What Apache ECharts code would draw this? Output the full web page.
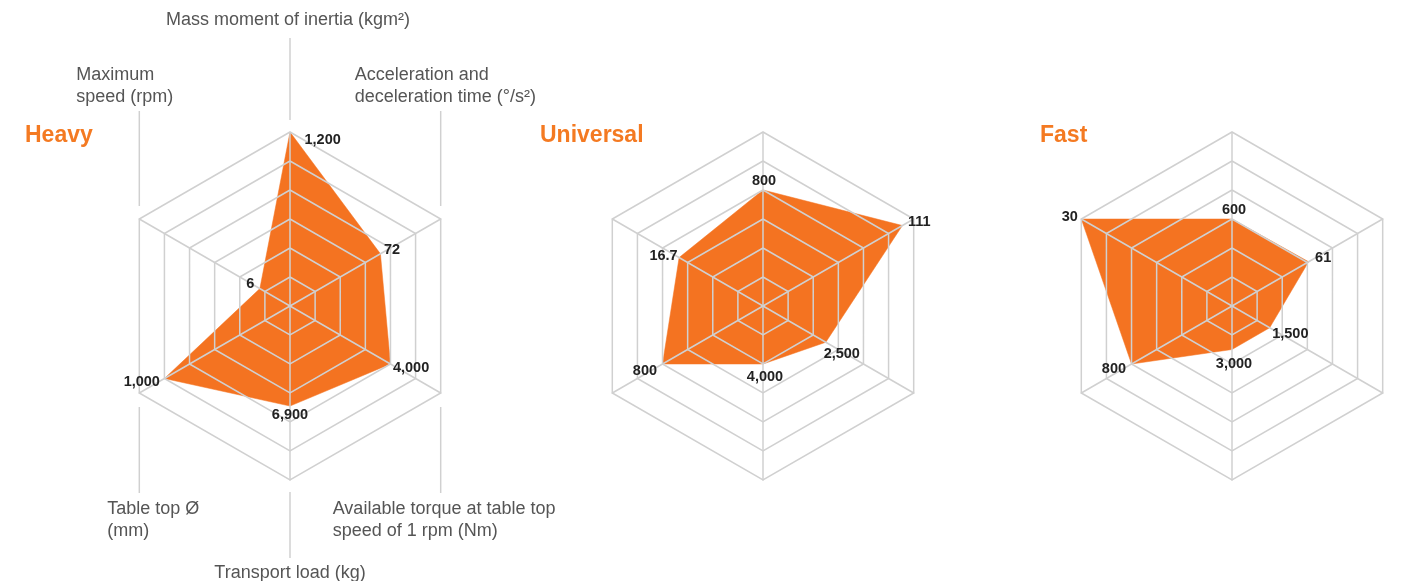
<!DOCTYPE html>
<html>
<head>
<meta charset="utf-8">
<script src="https://cdn.jsdelivr.net/npm/echarts@6/dist/echarts.min.js"></script>
<style>
html,body{margin:0;padding:0;background:#fff;}
#chart{width:1404px;height:581px;}
</style>
</head>
<body>
<div id="chart"></div>
<script>
// ---- data ----
// indicator order (ECharts radar, counter-clockwise from top)
var indicatorNames = [
  'Mass moment of inertia (kgm²)',
  'Maximum speed (rpm)',
  'Table top Ø (mm)',
  'Transport load (kg)',
  'Available torque at table top speed of 1 rpm (Nm)',
  'Acceleration and deceleration time (°/s²)'
];
var axisMax = [1200, 30, 1200, 12000, 6000, 120];
var chartTitles = ['Heavy', 'Universal', 'Fast'];
var heavyValues = [1200, 6, 1000, 6900, 4000, 72];
var universalValues = [800, 16.7, 800, 4000, 2500, 111];
var fastValues = [600, 30, 800, 3000, 1500, 61];
// axis name texts shown around the first chart
var nameTop = 'Mass moment of inertia (kgm²)';
var nameUpperLeft = 'Maximum\nspeed (rpm)';
var nameUpperRight = 'Acceleration and\ndeceleration time (°/s²)';
var nameLowerLeft = 'Table top Ø\n(mm)';
var nameLowerRight = 'Available torque at table top\nspeed of 1 rpm (Nm)';
var nameBottom = 'Transport load (kg)';

// ---- style / layout ----
var ORANGE = '#F47321';
var GRID = '#d0d0d0';
var FONT = '"Liberation Sans", Arial, Helvetica, sans-serif';
var centersX = [290, 763, 1232];
var titleLeft = [25, 540, 1040];
var CY = 306, R = 174;
var allValues = [heavyValues, universalValues, fastValues];

// label placement per chart, per dimension
var labelPlacement = [
  [ {p:'right',d:5,o:[9,8]}, {p:'left',d:5,o:[0,-5]}, {p:'left',d:4,o:[0,3]},
    {p:'bottom',d:5,o:[0,-4]}, {p:'right',d:3,o:[-1,4]}, {p:'right',d:3,o:[0,-4]} ],
  [ {p:'top',d:5,o:[1,4]}, {p:'left',d:1,o:[0,-2]}, {p:'left',d:5,o:[0,7]},
    {p:'bottom',d:5,o:[2,0]}, {p:'bottom',d:5,o:[16,-1]}, {p:'right',d:5,o:[0,-4]} ],
  [ {p:'top',d:5,o:[2,4]}, {p:'left',d:3,o:[0,-2]}, {p:'left',d:5,o:[0,5]},
    {p:'bottom',d:5,o:[2,1]}, {p:'right',d:2,o:[0,6]}, {p:'right',d:6,o:[0,-4]} ]
];

function fmt(v){ return Number(v).toLocaleString('en-US'); }

var radars = [], series = [], graphics = [];
centersX.forEach(function(cx, i){
  radars.push({
    center: [cx, CY],
    radius: R,
    startAngle: 90,
    splitNumber: 6,
    shape: 'polygon',
    z: 3,
    indicator: indicatorNames.map(function(n, k){ return {name: n, min: 0, max: axisMax[k]}; }),
    axisName: {show: false},
    axisLine: {show: true, lineStyle: {color: GRID, width: 1.5}},
    splitLine: {show: true, lineStyle: {color: GRID, width: 1.5}},
    splitArea: {show: false},
    axisTick: {show: false},
    axisLabel: {show: false}
  });
  series.push({
    type: 'radar',
    radarIndex: i,
    z: 2,
    silent: true,
    symbol: 'none',
    lineStyle: {color: ORANGE, width: 0.5},
    areaStyle: {color: ORANGE, opacity: 1},
    data: [{value: allValues[i], name: chartTitles[i]}]
  });
  series.push({
    type: 'radar',
    radarIndex: i,
    z: 5,
    silent: true,
    symbol: 'circle',
    symbolSize: 1,
    itemStyle: {color: 'rgba(0,0,0,0)'},
    lineStyle: {opacity: 0, width: 0},
    data: labelPlacement[i].map(function(lp, k){
      return {
        value: allValues[i],
        label: {
          show: true,
          position: lp.p,
          distance: lp.d,
          offset: lp.o,
          color: '#222',
          fontFamily: FONT,
          fontWeight: 'bold',
          fontSize: 14.5,
          formatter: function(p){ return p.dimensionIndex === k ? fmt(p.value) : ''; }
        }
      };
    })
  });
  graphics.push({
    type: 'text', left: titleLeft[i], top: 124, silent: true,
    style: {text: chartTitles[i], fill: '#F47A22', font: 'bold 23px ' + FONT}
  });
});

// axis names and leader lines for the first chart
var cx0 = centersX[0];
var dx = R * Math.cos(Math.PI / 6), dy = R / 2;
var T = [cx0, CY - R], B = [cx0, CY + R];
var UL = [cx0 - dx, CY - dy], UR = [cx0 + dx, CY - dy];
var LL = [cx0 - dx, CY + dy], LR = [cx0 + dx, CY + dy];
function vline(x, y1, y2){
  return {type: 'line', silent: true, shape: {x1: x, y1: y1, x2: x, y2: y2},
          style: {stroke: GRID, lineWidth: 1.5}};
}
function txt(s, x, y, align){
  return {type: 'text', silent: true,
          style: {text: s, x: x, y: y, fill: '#555', font: '18px ' + FONT,
                  align: align, verticalAlign: 'middle', lineHeight: 22}};
}
graphics.push(vline(T[0], T[1] - 94, T[1] - 12));
graphics.push(vline(UL[0], UL[1] - 108, UL[1] - 13));
graphics.push(vline(UR[0], UR[1] - 108, UR[1] - 13));
graphics.push(vline(LL[0], LL[1] + 14, LL[1] + 100));
graphics.push(vline(LR[0], LR[1] + 14, LR[1] + 100));
graphics.push(vline(B[0], B[1] + 12, B[1] + 78));
graphics.push(txt(nameTop, T[0] - 2, T[1] - 112, 'center'));
graphics.push(txt(nameUpperLeft, UL[0] - 63, UL[1] - 132.5, 'left'));
graphics.push(txt(nameUpperRight, UR[0] - 86, UR[1] - 132.5, 'left'));
graphics.push(txt(nameLowerLeft, LL[0] - 32, LL[1] + 127.5, 'left'));
graphics.push(txt(nameLowerRight, LR[0] - 108, LR[1] + 127.5, 'left'));
graphics.push(txt(nameBottom, B[0], B[1] + 93, 'center'));

var chart = echarts.init(document.getElementById('chart'), null, {renderer: 'canvas'});
chart.setOption({
  backgroundColor: '#fff',
  animation: false,
  radar: radars,
  series: series,
  graphic: graphics
});
</script>
</body>
</html>
